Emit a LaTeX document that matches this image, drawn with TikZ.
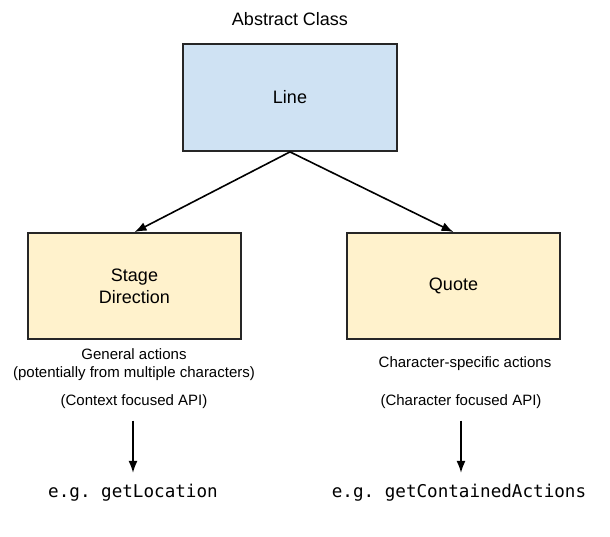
\documentclass[tikz,border=0pt]{standalone}
\usepackage{fontspec}
\setmainfont{Liberation Sans}
\setmonofont{DejaVu Sans Mono}
\usetikzlibrary{arrows, arrows.meta, positioning}
\definecolor{abstractblue}{HTML}{CFE2F3}
\definecolor{classyellow}{HTML}{FFF2CC}
\tikzstyle{line} = [draw, -{Latex[length=12pt,width=9pt]}, line width=1.6pt]
\tikzstyle{cls} = [draw=black!85, line width=1.8pt, minimum width=213pt, minimum height=106pt, align=center, font=\fontsize{18}{22}\selectfont]
\tikzstyle{note} = [align=center, font=\fontsize{15}{18}\selectfont]

\begin{document}
\begin{tikzpicture}
    [
        x=1pt, y=-1pt,
        >=latex,
        code/.style={font=\ttfamily\fontsize{17.6}{20}\selectfont}
    ]

    \useasboundingbox (0,0) rectangle (610,536);

    \node[font=\fontsize{18}{21}\selectfont] (abs_lbl) at (290,19) {Abstract Class};
    \node[cls, fill=abstractblue, minimum width=214pt, minimum height=107pt] (line_cls) at (290,97.5) {Line};

    \node[cls, fill=classyellow] (stage_cls) at (134.5,286) {Stage\\Direction};
    \node[cls, fill=classyellow] (quote_cls) at (453.5,286) {Quote};

    \draw[line] (line_cls.south) -- (stage_cls.north);
    \draw[line] (line_cls.south) -- (quote_cls.north);

    % notes under the classes
    \node[note] (stage_note) at (134,364.5) {General actions\\(potentially from multiple characters)};
    \node[note] (quote_note) at (465,364) {Character-specific actions};

    \node[note] (stage_api) at (134,402) {(Context focused API)};
    \node[note] (quote_api) at (461,402) {(Character focused API)};

    \node[code] (stage_eg) at (133,493) {e.g. getLocation};
    \node[code] (quote_eg) at (459,493) {e.g. getContainedActions};

    \draw[line, shorten <=8pt, shorten >=8pt] (stage_api.south -| stage_eg.north) -- (stage_eg.north);
    \draw[line, shorten <=8pt, shorten >=8pt] (quote_api.south) -- (quote_api.south |- quote_eg.north);

\end{tikzpicture}
\end{document}
